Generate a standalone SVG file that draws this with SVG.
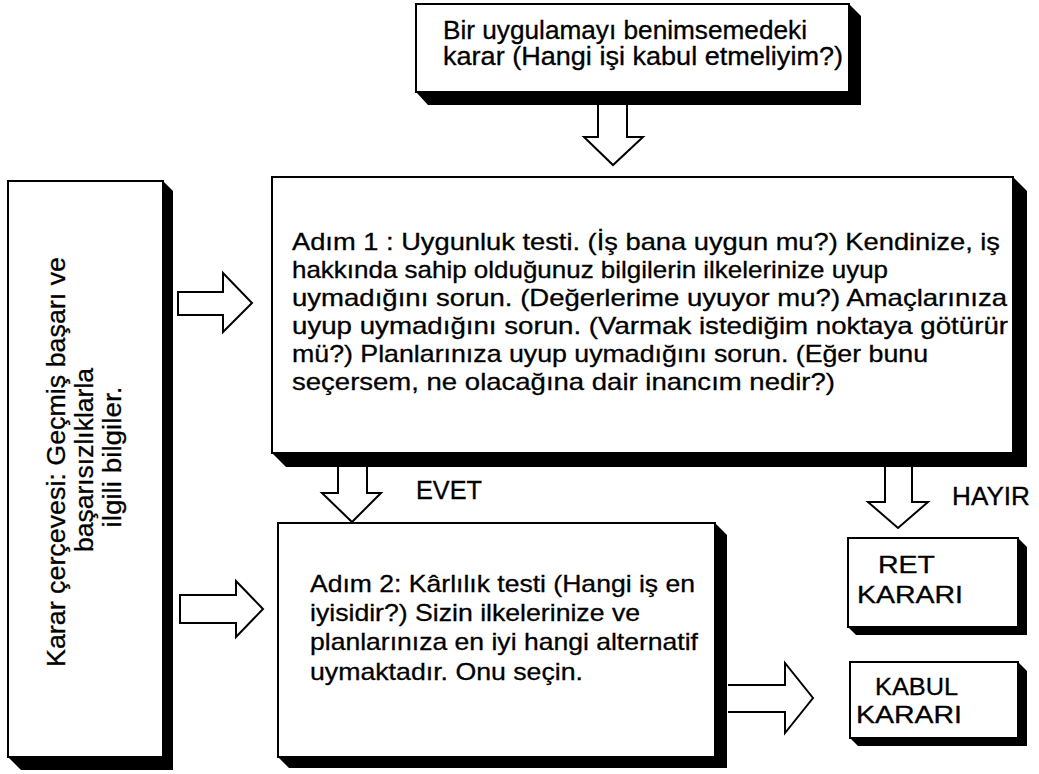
<svg xmlns="http://www.w3.org/2000/svg" width="1039" height="774" viewBox="0 0 1039 774">
  <style>
    .shadow { fill: #000; }
    .box { fill: #fff; stroke: #000; stroke-width: 2; }
    .arrow { fill: #fff; stroke: #000; stroke-width: 2; stroke-linejoin: miter; }
    text { font-family: "Liberation Sans", Arial, Helvetica, sans-serif; fill: #000; stroke: #000; stroke-width: 0.3; }
    .t25 { font-size: 25px; }
    .t24 { font-size: 24px; }
  </style>
  <rect width="1039" height="774" fill="#fff"/>

  <!-- Connectors: hollow block arrows -->
  <g id="connectors">
    <path class="arrow" d="M598,105 V137 H584 L613,165 L643,137 H627 V105"/>
    <polygon class="arrow" points="178,292 223,292 223,273 252,303 223,332 223,315 178,315"/>
    <polygon class="arrow" points="180,595 236,595 236,581 263,609 236,637 236,623 180,623"/>
    <path class="arrow" d="M338,467 V493 H322 L352,522 L381,493 H367 V467"/>
    <path class="arrow" d="M885,467 V502 H868 L898,528 L928,502 H912 V467"/>
    <path class="arrow" d="M728,685 H785 V663 L813,698 L785,733 V712 H728"/>
    <text class="t25" x="416" y="499" textLength="66" lengthAdjust="spacingAndGlyphs">EVET</text>
    <text class="t25" x="952" y="505" textLength="78" lengthAdjust="spacingAndGlyphs">HAYIR</text>
  </g>

  <!-- Decision to adopt -->
  <g id="node-decision">
    <polygon class="shadow" points="849,4 861,16 861,105 428,105 416,92"/>
    <rect class="box" x="416" y="4" width="433" height="88"/>
    <text class="t25" x="443" y="39" textLength="364" lengthAdjust="spacingAndGlyphs">Bir uygulamayı benimsemedeki</text>
    <text class="t25" x="443" y="65" textLength="400" lengthAdjust="spacingAndGlyphs">karar (Hangi işi kabul etmeliyim?)</text>
  </g>

  <!-- Decision frame (vertical text) -->
  <g id="node-frame">
    <polygon class="shadow" points="163,181 173,191 173,770 21,770 8,757"/>
    <rect class="box" x="8" y="181" width="155" height="576"/>
    <text class="t25" transform="translate(65,462) rotate(-90)" text-anchor="middle" textLength="410" lengthAdjust="spacingAndGlyphs">Karar çerçevesi: Geçmiş başarı ve</text>
    <text class="t25" transform="translate(93,460) rotate(-90)" text-anchor="middle" textLength="184" lengthAdjust="spacingAndGlyphs">başarısızlıklarla</text>
    <text class="t25" transform="translate(121,457) rotate(-90)" text-anchor="middle" textLength="141" lengthAdjust="spacingAndGlyphs">ilgili bilgiler.</text>
  </g>

  <!-- Step 1: suitability test -->
  <g id="node-step1">
    <polygon class="shadow" points="1013,177 1027,191 1027,467 286,467 272,453"/>
    <rect class="box" x="272" y="177" width="741" height="276"/>
    <text class="t24" x="292" y="250" textLength="708" lengthAdjust="spacingAndGlyphs">Adım 1 : Uygunluk testi. (İş bana uygun mu?) Kendinize, iş</text>
    <text class="t24" x="292" y="278" textLength="596" lengthAdjust="spacingAndGlyphs">hakkında sahip olduğunuz bilgilerin ilkelerinize uyup</text>
    <text class="t24" x="292" y="306" textLength="715" lengthAdjust="spacingAndGlyphs">uymadığını sorun. (Değerlerime uyuyor mu?) Amaçlarınıza</text>
    <text class="t24" x="292" y="334" textLength="716" lengthAdjust="spacingAndGlyphs">uyup uymadığını sorun. (Varmak istediğim noktaya götürür</text>
    <text class="t24" x="292" y="362" textLength="636" lengthAdjust="spacingAndGlyphs">mü?) Planlarınıza uyup uymadığını sorun. (Eğer bunu</text>
    <text class="t24" x="292" y="390" textLength="543" lengthAdjust="spacingAndGlyphs">seçersem, ne olacağına dair inancım nedir?)</text>
  </g>

  <!-- Step 2: profitability test -->
  <g id="node-step2">
    <polygon class="shadow" points="715,523 727,535 727,768 289,768 278,757"/>
    <rect class="box" x="278" y="523" width="437" height="234"/>
    <text class="t24" x="310" y="592" textLength="385" lengthAdjust="spacingAndGlyphs">Adım 2: Kârlılık testi (Hangi iş en</text>
    <text class="t24" x="310" y="621" textLength="330" lengthAdjust="spacingAndGlyphs">iyisidir?) Sizin ilkelerinize ve</text>
    <text class="t24" x="310" y="650" textLength="388" lengthAdjust="spacingAndGlyphs">planlarınıza en iyi hangi alternatif</text>
    <text class="t24" x="310" y="680" textLength="273" lengthAdjust="spacingAndGlyphs">uymaktadır. Onu seçin.</text>
  </g>

  <!-- Rejection decision -->
  <g id="node-reject">
    <polygon class="shadow" points="1018,538 1027,547 1027,635 856,635 848,627"/>
    <rect class="box" x="848" y="538" width="170" height="89"/>
    <text class="t24" x="878" y="573" textLength="57" lengthAdjust="spacingAndGlyphs">RET</text>
    <text class="t24" x="857" y="603" textLength="106" lengthAdjust="spacingAndGlyphs">KARARI</text>
  </g>

  <!-- Acceptance decision -->
  <g id="node-accept">
    <polygon class="shadow" points="1018,662 1027,671 1027,746 858,746 850,738"/>
    <rect class="box" x="850" y="662" width="168" height="76"/>
    <text class="t24" x="875" y="695" textLength="83" lengthAdjust="spacingAndGlyphs">KABUL</text>
    <text class="t24" x="856" y="723" textLength="106" lengthAdjust="spacingAndGlyphs">KARARI</text>
  </g>
</svg>
